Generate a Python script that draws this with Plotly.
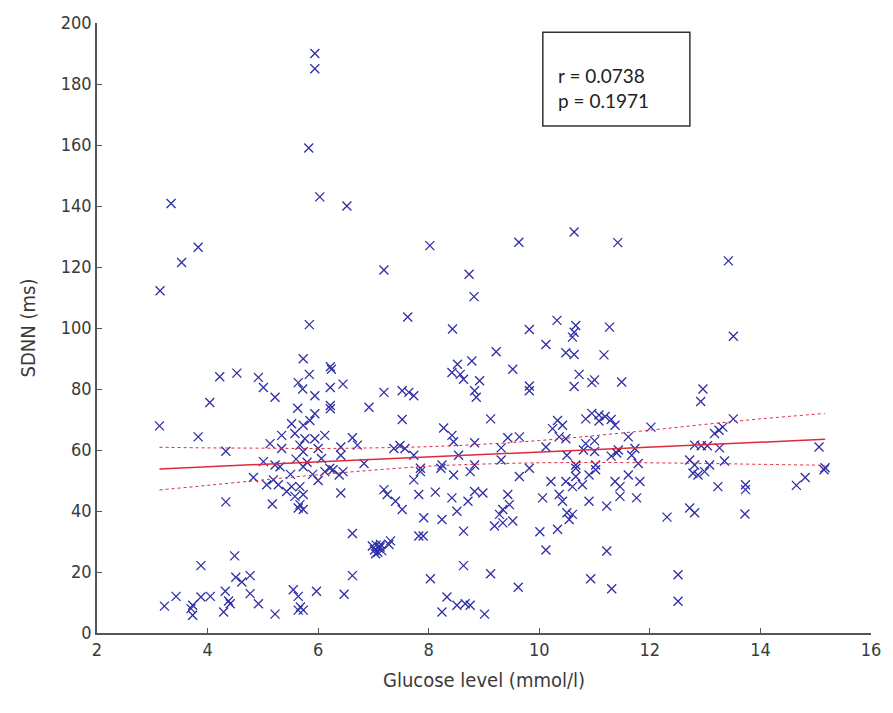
import plotly.graph_objects as go

# Scatter data (glucose mmol/l, SDNN ms)
glucose = [
    5.94, 5.94, 5.83, 6.03, 6.52, 3.34, 3.83, 3.53, 3.14, 7.19, 8.02, 8.73, 8.82, 9.63, 10.63, 11.42, 13.42, 13.51,
    5.84, 5.73, 5.84, 6.22, 6.24, 4.22, 4.53, 4.92, 5.01, 5.22, 5.64, 5.72, 5.94, 6.22, 6.45, 6.22, 6.22, 7.19, 6.92,
    4.04, 3.13, 3.83, 4.33, 5.63, 5.94, 5.52, 5.73, 5.85, 5.34, 5.58, 5.76, 5.94, 6.12, 5.13, 5.34, 5.67, 5.73, 6.0,
    6.41, 6.62, 6.71, 6.41, 6.83, 5.01, 5.22, 5.73, 6.06, 6.21, 5.6, 5.8, 5.9, 5.5, 6.0,
    4.83, 5.07, 5.31, 5.19, 5.28, 5.43, 5.52, 5.67, 5.73, 5.58, 5.67, 5.73, 5.64, 6.12, 6.27, 6.38, 6.45, 6.41, 4.33,
    5.17, 7.19, 6.62, 6.98, 7.02, 7.05, 7.08, 7.1, 7.13, 7.15, 7.04, 7.12, 6.62, 6.47, 4.49, 3.88, 4.51, 4.77, 4.62,
    4.32, 4.77, 4.92, 4.41, 4.29, 4.38, 3.88, 4.05, 3.73, 3.73, 3.7, 3.43, 3.22, 5.22, 5.55, 5.64, 5.97, 5.64, 5.73, 5.68,
    7.62, 8.43, 9.82, 10.32, 10.66, 10.63, 10.6, 11.27, 10.12, 10.48, 10.63, 11.17, 9.22, 8.78, 8.52, 8.42, 8.57, 8.63,
    8.92, 8.83, 8.86, 9.52, 9.82, 9.82, 10.72, 10.63, 10.95, 11.0, 11.49, 7.52, 7.64, 7.73, 7.52, 9.12, 8.27, 8.42, 8.45,
    8.83, 9.43, 9.64, 9.31, 10.33, 10.42, 10.24, 10.36, 10.48, 10.84, 10.95, 11.08, 11.19, 11.3, 11.08, 11.37, 10.84,
    11.0, 7.37, 7.48, 7.57, 7.73, 8.54, 10.12, 10.5, 10.8, 11.0, 11.3, 11.4, 8.24, 8.22, 8.83, 7.85, 9.31, 9.82, 10.66, 11.02,
    7.85, 7.73, 8.75, 8.45, 9.64, 10.21, 10.48, 10.66, 10.6, 10.78, 10.9, 11.02, 10.66, 11.37, 11.46, 7.25, 7.4, 7.52,
    7.82, 8.12, 8.42, 8.71, 8.83, 8.98, 8.51, 9.43, 9.46, 9.34, 9.28, 9.52, 9.19, 9.34, 10.06, 10.36, 10.42, 10.5, 10.6,
    10.54, 10.33, 10.9, 11.22, 7.91, 8.24, 8.63, 7.82, 7.9, 7.31, 7.28, 10.01, 10.12, 11.22, 8.63, 9.12, 8.03, 9.62,
    10.93, 11.31, 8.33, 8.51, 8.66, 8.75, 8.24, 9.01,
    12.96, 12.92, 13.51, 13.32, 13.17, 13.25, 12.02, 11.61, 11.43, 11.73, 11.79, 11.67, 12.81, 12.93, 13.04, 13.26,
    15.06, 12.72, 12.81, 13.08, 13.35, 15.17,
    11.61, 11.82, 11.46, 11.76, 12.78, 12.87, 12.99, 13.23, 13.73, 13.73, 13.72, 12.72, 12.81, 12.31, 14.65, 14.81,
    15.15, 12.51, 12.51,
]
sdnn = [
    190, 185, 159, 143, 140, 140.8, 126.5, 121.5, 112.2, 119, 127, 117.6, 110.3, 128.1, 131.5, 128, 122, 97.3,
    101.1, 89.9, 84.8, 87.3, 86.5, 84, 85.2, 83.8, 80.5, 77.3, 82.1, 80, 77.8, 80.5, 81.6, 74.6, 73.5, 78.9, 74,
    75.6, 67.9, 64.3, 59.6, 73.7, 71.9, 68.6, 68.1, 69.7, 64.8, 65.4, 63.7, 63.7, 64.8, 62.1, 60.5, 61.6, 59.4, 60.5,
    61, 64, 61.6, 58.3, 55.6, 56.2, 55.1, 54.5, 57.2, 54, 57, 56, 52, 52, 50,
    51, 48.6, 54.5, 50.2, 48.6, 46.4, 48, 48, 45.4, 44.8, 42.1, 40.5, 41, 52.9, 53.5, 51.8, 52.9, 45.9, 43,
    42.3, 47, 32.6, 28.5, 27.2, 28.8, 26.5, 27.8, 29, 27, 26, 28.2, 18.8, 12.7, 25.3, 22.1, 18.3, 18.8, 16.7,
    13.7, 12.9, 9.6, 9.6, 6.9, 10.5, 11.8, 12, 9.1, 5.8, 8, 12, 8.8, 6.2, 14.2, 12, 13.7, 7.5, 7.5, 8.5,
    103.6, 99.7, 99.5, 102.5, 100.8, 98.6, 97, 100.3, 94.6, 91.9, 91.3, 91.2, 92.2, 89.2, 88.1, 85.4, 84.8, 83.2,
    82.7, 79.4, 77.3, 86.5, 81, 79.4, 84.8, 80.8, 82.1, 83, 82.3, 79.4, 78.9, 77.8, 70, 70.2, 67.2, 64.8, 62.7,
    62.4, 64, 64.3, 60.7, 69.7, 68.1, 67, 64.3, 63.7, 70.2, 72, 71.5, 71, 70, 69.5, 68.1, 62.1,
    63, 60.5, 61.5, 60.5, 58.3, 58.3, 61, 58.3, 60, 59.5, 58, 59, 55.1, 54, 55.1, 54, 56.7, 54, 55.1, 55.1,
    52.9, 50.2, 52.9, 51.8, 51.3, 49.7, 49.7, 51.3, 48, 48.6, 51.8, 53.5, 54, 49.7, 48, 45.4, 43.2, 40.5,
    45.4, 46.2, 44.3, 43.2, 46.4, 45.9, 39.9, 45.4, 42.1, 40.5, 38.9, 36.7, 35.1, 36.1, 44.3, 45.4, 43.2, 39.4, 38.9,
    37.2, 34, 43.2, 41.6, 37.8, 37.2, 33.4, 31.8, 31.8, 30.2, 29, 33.2, 27.2, 26.9, 22.1, 19.4, 17.8, 15,
    17.8, 14.5, 11.8, 9.1, 9.6, 9.1, 6.9, 6.2,
    80, 75.9, 70.2, 67.5, 65.4, 66.5, 67.5, 64.3, 60, 60.5, 55.6, 58.3, 61.6, 61.4, 61.4, 60.7,
    61, 56.7, 55.1, 55.1, 56.4, 54.2,
    51.8, 49.7, 44.8, 44.3, 52.4, 51.8, 52.9, 48, 48.6, 47, 39, 41, 39.4, 38, 48.4, 51,
    53.5, 19.1, 10.4,
]

# Regression line and confidence band, read at a few x positions
fit_x = [3.13, 15.17]
fit_y = [53.8, 63.5]
band_x = [3.13, 4, 5, 6, 7, 8, 9, 10, 11, 12, 13, 14, 15.17]
band_upper = [60.9, 60.7, 60.6, 60.5, 60.7, 61.1, 61.9, 63.1, 64.7, 66.5, 68.4, 70.2, 72.0]
band_lower = [46.9, 48.4, 50.2, 51.9, 53.4, 54.7, 55.4, 55.8, 55.9, 55.8, 55.6, 55.3, 55.0]

x_ticks = [2, 4, 6, 8, 10, 12, 14, 16]
y_ticks = [0, 20, 40, 60, 80, 100, 120, 140, 160, 180, 200]
stats_text = ["r = 0.0738", "p = 0.1971"]

font_axis = "DejaVu Sans Condensed, Liberation Sans Narrow, Arial Narrow, Liberation Sans, sans-serif"

fig = go.Figure()
fig.add_trace(go.Scatter(
    x=glucose, y=sdnn, mode="markers",
    marker=dict(symbol="x-thin", size=9, line=dict(width=1.3, color="#2e2ea6"), color="#2e2ea6"),
    showlegend=False, hoverinfo="x+y",
))
fig.add_trace(go.Scatter(
    x=fit_x, y=fit_y, mode="lines",
    line=dict(color="#e0283c", width=1.5), showlegend=False,
))
for band in (band_upper, band_lower):
    fig.add_trace(go.Scatter(
        x=band_x, y=band, mode="lines", line_shape="spline",
        line=dict(color="#e0283c", width=1, dash="dot"), showlegend=False,
    ))

axis_common = dict(
    showgrid=False, zeroline=False, showline=True, linecolor="#555555", linewidth=1.5,
    ticks="inside", ticklen=5, tickwidth=1.2, tickcolor="#555555",
    tickfont=dict(family=font_axis, size=18, color="#3a3a3a"),
    mirror=False,
)
fig.update_xaxes(range=[2, 16], tickvals=x_ticks,
                 title=dict(text="Glucose level (mmol/l)", font=dict(family=font_axis, size=20, color="#3a3a3a"), standoff=14),
                 **axis_common)
fig.update_yaxes(range=[0, 200], tickvals=y_ticks,
                 title=dict(text="SDNN (ms)", font=dict(family=font_axis, size=20, color="#3a3a3a"), standoff=20),
                 **axis_common)

# stats box
fig.add_shape(type="rect", xref="paper", yref="paper", x0=0.576, x1=0.766, y0=0.831, y1=0.985,
              line=dict(color="#333333", width=1.5), fillcolor="white", layer="above")
fig.add_annotation(text="<br>".join(stats_text), xref="paper", yref="paper", x=0.5927, y=0.8927,
                   xanchor="left", yanchor="middle", align="left", showarrow=False,
                   font=dict(family="Lato, Carlito, Open Sans, sans-serif", size=19, color="#222222"))

fig.update_layout(
    width=893, height=713,
    margin=dict(l=97, r=15, t=17, b=80),
    plot_bgcolor="white", paper_bgcolor="white",
)
fig.write_html("out.html")
